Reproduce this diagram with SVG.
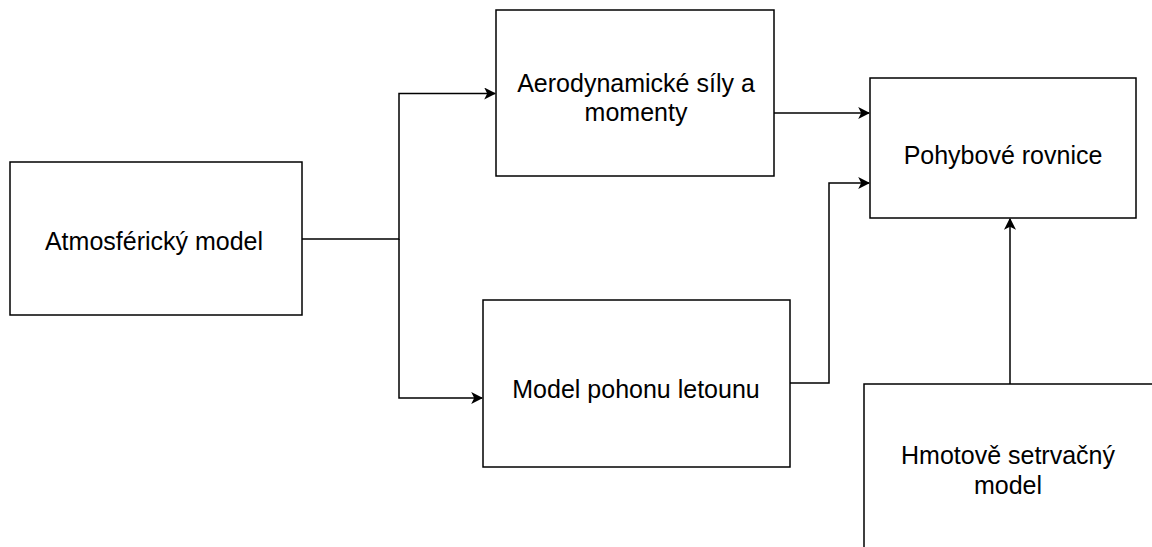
<svg xmlns="http://www.w3.org/2000/svg" width="1152" height="547" viewBox="0 0 1152 547">
<style>
.box{fill:#fff;stroke:#000;stroke-width:1.5}
.lbl{font-family:"Liberation Sans",Arial,sans-serif;font-size:25px;fill:#000;text-anchor:middle}
.edge{fill:none;stroke:#000;stroke-width:1.5}
</style>
<defs>
<marker id="arr" viewBox="0 0 10 10" refX="9" refY="5" markerWidth="12" markerHeight="12" markerUnits="userSpaceOnUse" orient="auto">
<path d="M0,0 L10,5 L0,10 L2.5,5 Z" fill="#000"/>
</marker>
</defs>
<rect width="1152" height="547" fill="#fff"/>
<g id="connectors">
<path class="edge" d="M302,239 H399 V93.5 H495" marker-end="url(#arr)"/>
<path class="edge" d="M399,239 V398 H482" marker-end="url(#arr)"/>
<path class="edge" d="M774,113 H869" marker-end="url(#arr)"/>
<path class="edge" d="M790,383 H829 V183 H869" marker-end="url(#arr)"/>
<path class="edge" d="M1010,384 V219" marker-end="url(#arr)"/>
</g>
<g id="atmosfericky">
<rect class="box" x="10" y="162" width="292" height="153"/>
<text class="lbl" x="154" y="250">Atmosférický model</text>
</g>
<g id="aerodynamicke">
<rect class="box" x="496" y="10" width="278" height="166"/>
<text class="lbl" x="636" y="92">Aerodynamické síly a</text>
<text class="lbl" x="636" y="121">momenty</text>
</g>
<g id="pohon">
<rect class="box" x="483" y="300" width="307" height="167"/>
<text class="lbl" x="636" y="398">Model pohonu letounu</text>
</g>
<g id="pohybove">
<rect class="box" x="870" y="78" width="266" height="140"/>
<text class="lbl" x="1003" y="164">Pohybové rovnice</text>
</g>
<g id="hmotove">
<rect class="box" x="864" y="384" width="300" height="180"/>
<text class="lbl" x="1008" y="464">Hmotově setrvačný</text>
<text class="lbl" x="1008" y="494">model</text>
</g>
</svg>
